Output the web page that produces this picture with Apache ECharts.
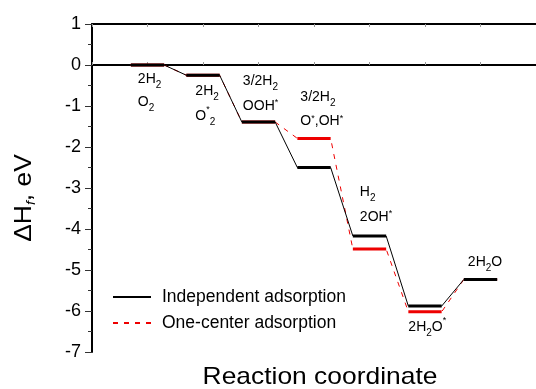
<!DOCTYPE html>
<html><head><meta charset="utf-8">
<script src="https://cdn.jsdelivr.net/npm/echarts@6/dist/echarts.min.js"></script>
<style>html,body{margin:0;padding:0;background:#fff}#c{width:536px;height:389px}</style>
</head><body><div id="c"></div>
<script>
// ---- data ----
const steps = [1, 2, 3, 4, 5, 6, 7];
const independent = [0, -0.25, -1.39, -2.50, -4.17, -5.88, -5.23];
const oneCenter = [0, -0.25, -1.39, -1.79, -4.49, -6.02, -5.23];
const seriesNames = ['Independent adsorption', 'One-center adsorption'];
const stateLabels = [
  ['2H{sb|2}', 'O{sb|2}'],
  ['2H{sb|2}', 'O{sp|*}{sb|2}'],
  ['3/2H{sb|2}', 'OOH{sp|*}'],
  ['3/2H{sb|2}', 'O{sp|*},OH{sp|*}'],
  ['H{sb|2}', '2OH{sp|*}'],
  ['2H{sb|2}O{sp|*}'],
  ['2H{sb|2}O']
];
const xTitle = 'Reaction coordinate';

// ---- layout / style (not data) ----
const HALF = 0.3;
const FONT = '"Liberation Sans", Arial, sans-serif';
const labelAnchor = [
  {s: 0, dx: 7, dy: [14, 37]},
  {s: 0, dx: 9, dy: [16, 41]},
  {s: 0, dx: 1, dy: [-41, -16]},
  {s: 1, dx: 3, dy: [-41, -17]},
  {s: 0, dx: 7, dy: [-44, -19]},
  {s: 1, dx: 0, dy: [15]},
  {s: 0, dx: 4, dy: [-17]}
];

function levelData(vals) {
  const d = [];
  steps.forEach((c, i) => { d.push([c - HALF, vals[i]], [c + HALF, vals[i]], ['-', '-']); });
  return d;
}
function pathData(vals) {
  const d = [];
  steps.forEach((c, i) => { d.push([c - HALF, vals[i]], [c + HALF, vals[i]]); });
  return d;
}

const chart = echarts.init(document.getElementById('c'), null, {renderer: 'canvas'});
const axisLine = {show: true, lineStyle: {color: '#000', width: 2}};
const xTick = {show: true, inside: true, length: 3, lineStyle: {color: '#999', width: 1}};
chart.setOption({
  animation: false,
  textStyle: {fontFamily: FONT},
  grid: {left: 92, top: 24, bottom: 37, right: -2},
  xAxis: [
    {type: 'value', min: 0, max: 8, interval: 1, axisLine, axisTick: xTick,
     axisLabel: {show: false}, splitLine: {show: false}},
    {type: 'value', position: 'top', min: 0, max: 8, interval: 1, axisLine, axisTick: xTick,
     axisLabel: {show: false}, splitLine: {show: false}}
  ],
  yAxis: {type: 'value', min: -7, max: 1, interval: 1,
    axisLine: {show: true, lineStyle: {color: '#000', width: 2}},
    axisTick: {show: true, inside: false, length: 7, lineStyle: {color: '#333', width: 1}},
    minorTick: {show: true, splitNumber: 2, length: 4, lineStyle: {color: '#333', width: 1}},
    axisLabel: {color: '#000', fontSize: 18, margin: 11, fontFamily: FONT},
    splitLine: {show: false}
  },
  legend: {
    data: seriesNames, orient: 'vertical', left: 107, top: 283,
    itemWidth: 38, itemHeight: 14, itemGap: 8,
    itemStyle: {opacity: 0},
    textStyle: {fontSize: 17.5, color: '#000', fontFamily: FONT, padding: [0, 0, 0, 6]}
  },
  series: [
    {name: seriesNames[1], type: 'line', data: pathData(oneCenter), symbol: 'none',
     lineStyle: {color: '#e00', width: 1, type: [5, 6]}, itemStyle: {color: '#e00'}, z: 2},
    {name: 'lv1', type: 'line', data: levelData(oneCenter), symbol: 'none', connectNulls: false,
     lineStyle: {color: '#e00', width: 3}, z: 3},
    {name: seriesNames[0], type: 'line', data: pathData(independent), symbol: 'none',
     lineStyle: {color: '#000', width: 1}, itemStyle: {color: '#000'}, z: 4},
    {name: 'lv0', type: 'line', data: levelData(independent), symbol: 'none', connectNulls: false,
     lineStyle: {color: '#000', width: 3}, z: 5}
  ]
});

const rich = {
  sb: {fontSize: 10, verticalAlign: 'bottom', padding: [12, 0, 0, 0], fontFamily: FONT, fill: '#000'},
  sp: {fontSize: 9, verticalAlign: 'top', padding: [0, 0, 6, 0], fontFamily: FONT, fill: '#000'}
};
const graphics = [];
const vals = [independent, oneCenter];
stateLabels.forEach((lines, i) => {
  const a = labelAnchor[i];
  const p = chart.convertToPixel({gridIndex: 0}, [steps[i] - HALF, vals[a.s][i]]);
  lines.forEach((t, k) => {
    graphics.push({type: 'text', x: p[0] + a.dx, y: p[1] + a.dy[k], z: 10,
      style: {text: t, fontSize: 14, fontFamily: FONT, fill: '#000', align: 'left',
        verticalAlign: 'middle', rich}});
  });
});
graphics.push({type: 'text', x: 320, y: 377, scaleX: 1.1, style: {text: xTitle, fontSize: 24, fontFamily: FONT,
  fill: '#000', align: 'center', verticalAlign: 'middle'}});
graphics.push({type: 'text', x: 24, y: 198, rotation: Math.PI / 2, scaleX: 1.1,
  style: {text: '{m|ΔH}{f|f}{m|, eV}', fontSize: 24, fontFamily: FONT, fill: '#000',
    align: 'center', verticalAlign: 'middle',
    rich: {m: {fontSize: 24, fontFamily: FONT, fill: '#000'},
           f: {fontSize: 13, fontStyle: 'italic', verticalAlign: 'bottom', padding: [14, 0, 0, 0], fontFamily: FONT, fill: '#000'}}}});
chart.setOption({graphic: graphics});
</script></body></html>
